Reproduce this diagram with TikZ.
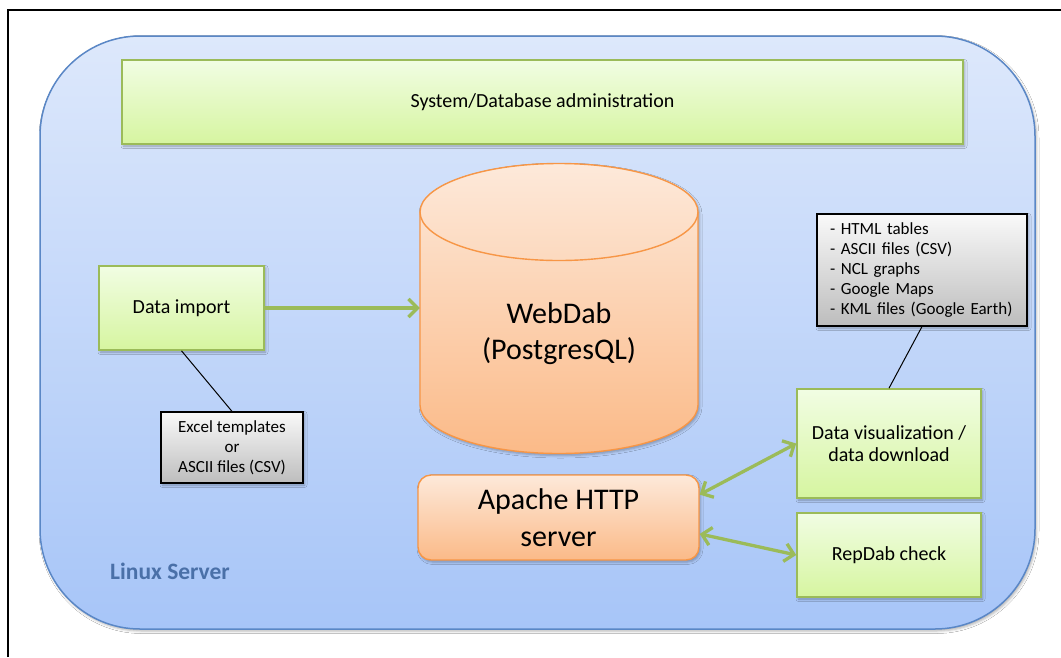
\documentclass[tikz,border=0pt]{standalone}
\usepackage{fontspec}
\setmainfont{Carlito}
\usetikzlibrary{arrows.meta,shadows.blur,calc}
\definecolor{bluetop}{HTML}{DDE8FB}
\definecolor{bluebot}{HTML}{A7C5F8}
\definecolor{blueline}{HTML}{5A87C6}
\definecolor{greentop}{HTML}{F1FDE3}
\definecolor{greenbot}{HTML}{D6F5A0}
\definecolor{greenline}{HTML}{9BBB59}
\definecolor{orangetop}{HTML}{FDE9DA}
\definecolor{orangebot}{HTML}{FBBA88}
\definecolor{orangeline}{HTML}{F79646}
\definecolor{graytop}{HTML}{F9F9F9}
\definecolor{graybot}{HTML}{BDBDBD}
\definecolor{servertext}{HTML}{4A70A8}
\begin{document}
\begin{tikzpicture}[x=1pt,y=-1pt,
 softshadow/.style={blur shadow={shadow xshift=1.5pt,shadow yshift=-2pt,shadow blur radius=2.5pt,shadow opacity=30}},
 greenbox/.style={draw=greenline,line width=1.6pt,top color=greentop,bottom color=greenbot,inner sep=0pt,align=center,font=\fontsize{20}{22}\selectfont,softshadow},
 graybox/.style={draw=black,line width=1.2pt,top color=graytop,bottom color=graybot,inner sep=0pt,font=\fontsize{17}{20}\selectfont,softshadow},
 orangebox/.style={draw=orangeline,line width=1.4pt,top color=orangetop,bottom color=orangebot,rounded corners=13pt,inner sep=0pt,align=center,font=\fontsize{30}{37}\selectfont,softshadow},
 flow/.style={draw=greenline,line width=3.3pt,-{Straight Barb[length=9pt,width=18pt]}},
 flow2/.style={draw=greenline,line width=3.3pt,{Straight Barb[length=9pt,width=18pt]}-{Straight Barb[length=9pt,width=18pt]}},
 link/.style={draw=black,line width=1pt}]
\useasboundingbox (0,0) rectangle (1061,657);
\fill[white] (0,0) rectangle (1061,657);
% outer frame
\draw[line width=2pt] (8,657) -- (8,10) -- (1061,10);
% server box
\draw[blueline,line width=1.5pt,top color=bluetop,bottom color=bluebot,rounded corners=100pt,softshadow] (40,36) rectangle (1035,629);
% admin
\node[greenbox,minimum width=841pt,minimum height=84pt] (admin) at (542.5,102) {System/Database administration};
% cylinder
\draw[orangeline,line width=1.4pt,top color=orangetop,bottom color=orangebot,softshadow]
  (420,212) -- (420,405) arc[start angle=180,end angle=0,x radius=139,y radius=48.5]
  -- (698,212) arc[start angle=0,end angle=-180,x radius=139,y radius=48.5] -- cycle;
\draw[orangeline,line width=1.4pt] (420,212) arc[start angle=180,end angle=0,x radius=139,y radius=48.5];
\node[minimum width=278pt,minimum height=290pt,inner sep=0pt] (cyl) at (559,308) {};
\node[align=center,inner sep=0pt,font=\fontsize{30}{36}\selectfont] (db) at (559,334) {WebDab\\(PostgresQL)};
% boxes
\node[greenbox,minimum width=165pt,minimum height=84pt] (imp) at (181.5,308) {Data import};
\node[graybox,align=center,minimum width=142pt,minimum height=71pt] (excel) at (232,447.5) {Excel templates\\or\\ASCII files (CSV)};
\node[graybox,align=left,text width=184pt,inner xsep=13pt,minimum height=112pt] (formats) at (922,270) {- HTML tables\\- ASCII files (CSV)\\- NCL graphs\\- Google Maps\\- KML files (Google Earth)};
\node[greenbox,minimum width=184pt,minimum height=109pt] (vis) at (889,443.5) {Data visualization /\\data download};
\node[greenbox,minimum width=184pt,minimum height=84pt] (rep) at (889,555) {RepDab check};
\node[orangebox,minimum width=281pt,minimum height=85pt] (apache) at (558.5,517.5) {Apache HTTP\\server};
\node[anchor=west,inner sep=0pt,text=servertext,font=\bfseries\fontsize{23.5}{26}\selectfont] (srv) at (110,571) {Linux Server};
% connectors
\draw[flow] (imp.east) -- (imp.east -| cyl.west);
\draw[flow2] ($(apache.north east)!0.235!(apache.south east)$) -- (vis.west);
\draw[flow2] ($(apache.north east)!0.69!(apache.south east)$) -- (rep.west);
\draw[link] (imp.south) -- (excel.north);
\draw[link] (formats.south) -- (vis.north);
\end{tikzpicture}
\end{document}
